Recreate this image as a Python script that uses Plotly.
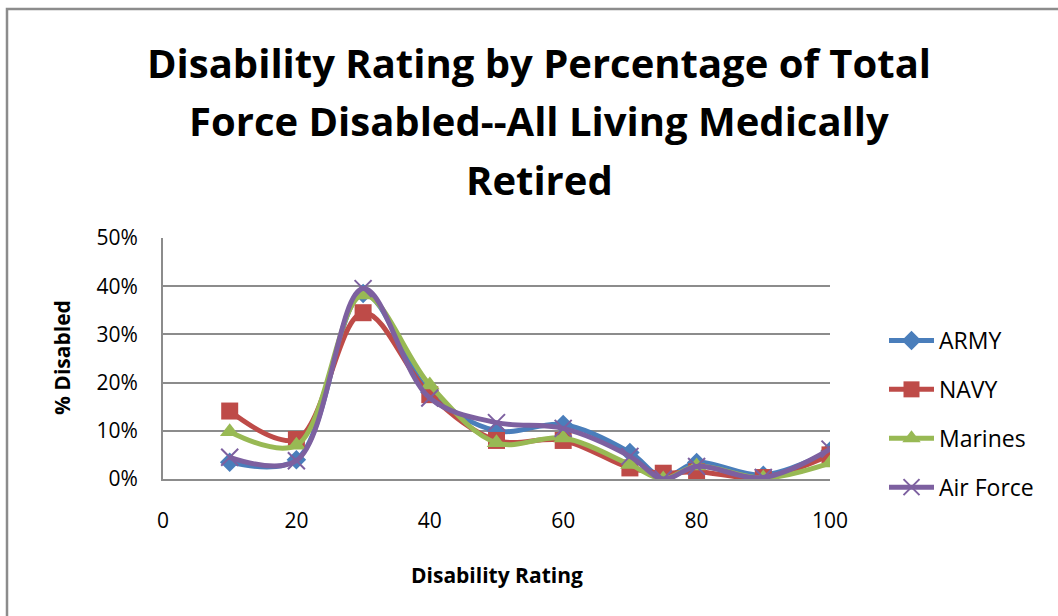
import plotly.graph_objects as go

# Disability rating (x) and share of each service's disabled retirees (%)
ratings = [10, 20, 30, 40, 50, 60, 70, 75, 80, 90, 100]
army = [3.5, 4.0, 38.5, 18.0, 10.0, 11.3, 5.5, 0.3, 3.4, 0.8, 5.8]
navy = [14.1, 8.2, 34.5, 17.5, 8.0, 8.0, 2.3, 1.2, 1.5, 0.3, 5.0]
marines = [9.8, 7.0, 38.2, 19.5, 7.5, 8.5, 3.0, 0.0, 2.7, 0.2, 3.3]
air_force = [4.5, 3.8, 39.5, 16.8, 11.7, 10.5, 4.7, 0.0, 2.6, 0.3, 6.2]

x_ticks = [0, 20, 40, 60, 80, 100]
y_ticks = [0, 10, 20, 30, 40, 50]
y_tick_text = [f"{v}%" for v in y_ticks]

title_lines = [
    "Disability Rating by Percentage of Total",
    "Force Disabled--All Living Medically",
    "Retired",
]

FONT = "Open Sans"
GRID = "#8c8c8c"

series = [
    ("ARMY", army, "#4a7ebb", "diamond", 15, None),
    ("NAVY", navy, "#be4b48", "square", 17, None),
    ("Marines", marines, "#98b954", "triangle-up", 17, None),
    ("Air Force", air_force, "#7d60a0", "x-thin", 17, 2),
]

fig = go.Figure()
for name, vals, color, symbol, size, mlw in series:
    marker = dict(symbol=symbol, size=size, color=color)
    if mlw:
        marker["line"] = dict(color=color, width=mlw)
    fig.add_trace(go.Scatter(
        x=ratings, y=[v / 100 for v in vals], name=name,
        mode="lines+markers", legendgroup=name,
        line=dict(color=color, width=5, shape="spline", smoothing=1),
        marker=marker,
    ))

# plot area in pixels: x 163..830, y 238..479
L, R, T, B = 163, 830, 238, 479
W, H = 1058, 616
pw, ph = R - L, B - T


def px(x):
    return (x - L) / pw


def py(y):
    return (B - y) / ph


annotations = []
for line, yc in zip(title_lines, [63, 121, 179]):
    annotations.append(dict(
        text=line, xref="paper", yref="paper", x=px(539), y=py(yc),
        xanchor="center", yanchor="middle", showarrow=False,
        font=dict(family=FONT, size=40, color="#000000", weight="bold"),
    ))
annotations += [
    dict(
        text="% Disabled", textangle=-90,
        xref="paper", yref="paper", x=px(62), y=py(358),
        xanchor="center", yanchor="middle", showarrow=False,
        font=dict(family=FONT, size=21, color="#000000", weight="bold"),
    ),
    dict(
        text="Disability Rating",
        xref="paper", yref="paper", x=px(497), y=py(575),
        xanchor="center", yanchor="middle", showarrow=False,
        font=dict(family=FONT, size=21, color="#000000", weight="bold"),
    ),
]

fig.update_layout(
    width=W, height=H,
    margin=dict(l=L, r=W - R, t=T, b=H - B, pad=0),
    paper_bgcolor="white", plot_bgcolor="white",
    font=dict(family=FONT, size=21, color="#000000"),
    showlegend=True,
    legend=dict(
        x=px(884), y=py(414), xanchor="left", yanchor="middle",
        traceorder="grouped", tracegroupgap=16, itemwidth=45,
        font=dict(family=FONT, size=23, color="#000000"),
        bgcolor="rgba(0,0,0,0)",
    ),
    xaxis=dict(
        range=[0, 100], tickvals=x_ticks, showgrid=False, zeroline=False,
        showline=True, linecolor=GRID, linewidth=2,
        ticks="", ticklabelstandoff=22,
        tickfont=dict(family=FONT, size=21),
    ),
    yaxis=dict(
        range=[0, 0.5], tickvals=[v / 100 for v in y_ticks], ticktext=y_tick_text,
        showgrid=True, gridcolor=GRID, gridwidth=2, zeroline=False,
        showline=True, linecolor=GRID, linewidth=2,
        ticks="", ticklabelstandoff=19,
        tickfont=dict(family=FONT, size=21),
    ),
    shapes=[dict(
        type="rect", xref="paper", yref="paper",
        x0=px(7), x1=px(1075), y0=py(9), y1=py(640),
        line=dict(color="#8c8c8c", width=2.5), fillcolor="rgba(0,0,0,0)",
        layer="below",
    )],
    annotations=annotations,
)

fig.write_html("out.html")
